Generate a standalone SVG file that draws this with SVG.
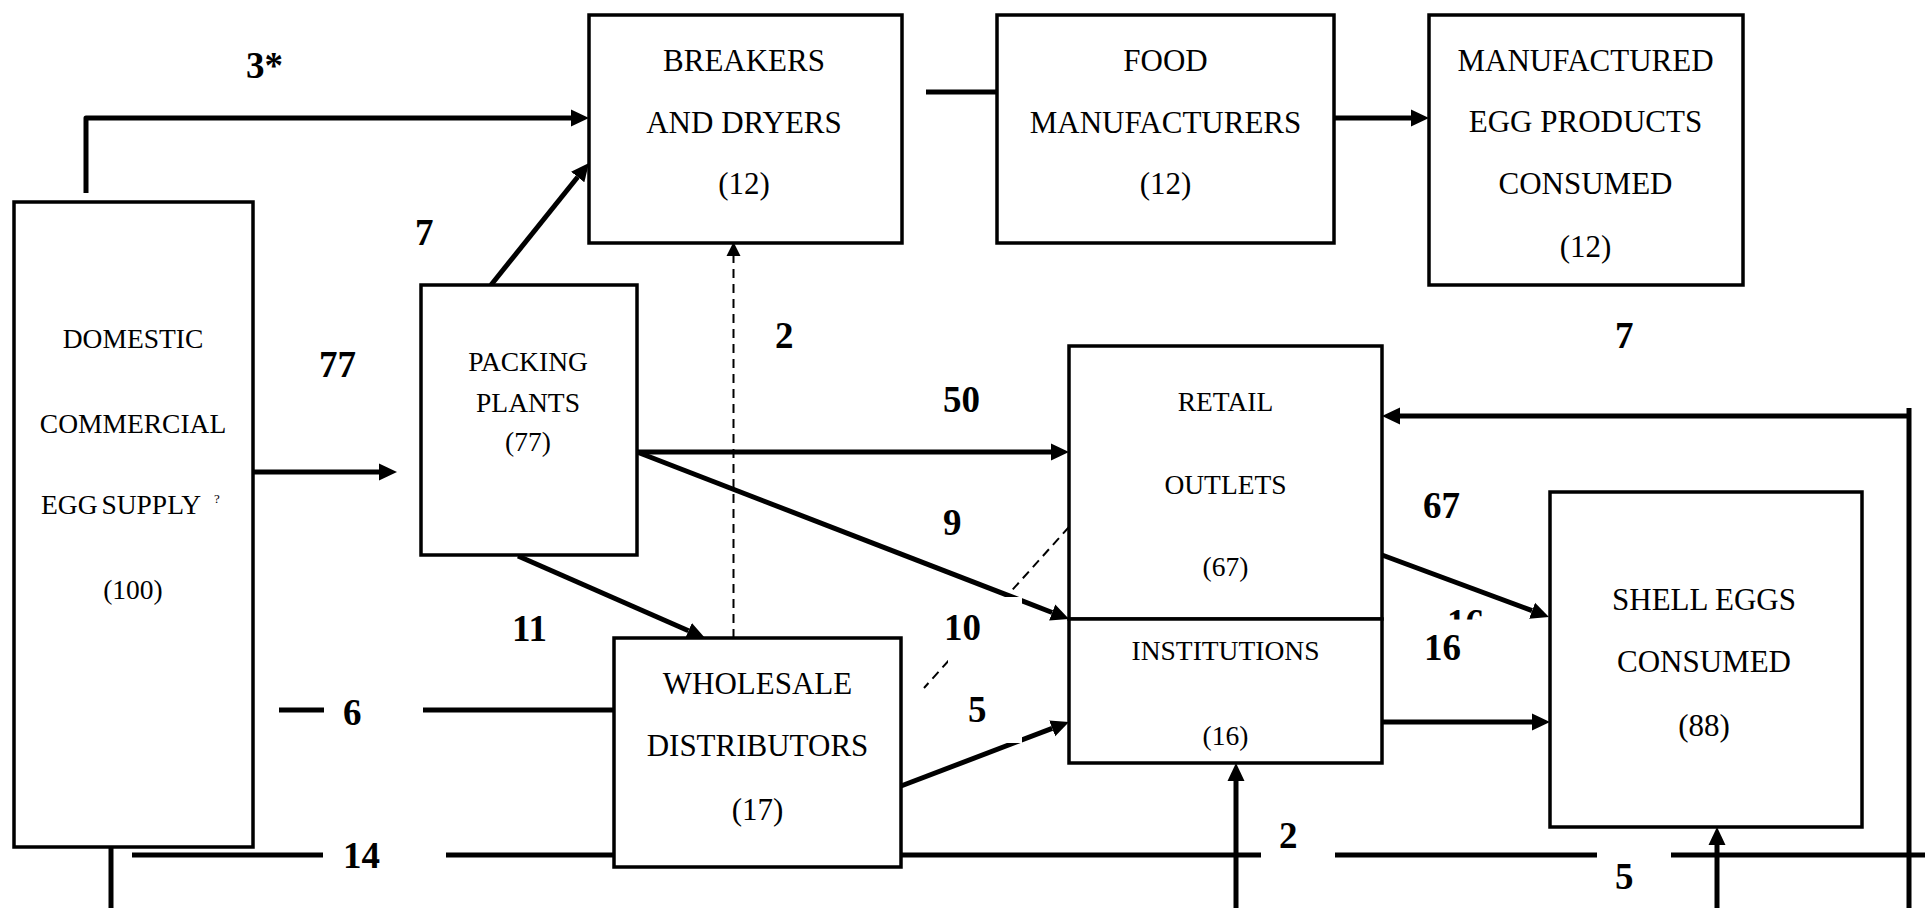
<svg xmlns="http://www.w3.org/2000/svg" width="1925" height="908" viewBox="0 0 1925 908">
  <style>
    .box { fill: #ffffff; stroke: #000000; stroke-width: 3.5; }
    .t { font-family: "Liberation Serif", "Times New Roman", serif; font-size: 31px; text-anchor: middle; fill: #000000; }
    .ts { font-size: 27.5px; }
    .lbl { font-family: "Liberation Serif", "Times New Roman", serif; font-size: 37px; font-weight: bold; fill: #000000; }
    .ln { fill: none; stroke: #000000; stroke-width: 5; stroke-linecap: butt; stroke-linejoin: round; }
    .arr { marker-end: url(#head); }
    .dash { fill: none; stroke: #000000; stroke-width: 2; stroke-dasharray: 9 6; }
  </style>
  <defs>
    <marker id="head" markerUnits="userSpaceOnUse" markerWidth="18" markerHeight="18" viewBox="0 -9 18 18" refX="0" refY="0" orient="auto">
      <path d="M0,-8.5 L18,0 L0,8.5 z" fill="#000000"/>
    </marker>
    <marker id="headSmall" markerUnits="userSpaceOnUse" markerWidth="14" markerHeight="16" viewBox="0 -8 14 16" refX="0" refY="0" orient="auto">
      <path d="M0,-7 L14,0 L0,7 z" fill="#000000"/>
    </marker>
    <clipPath id="cutTop">
      <rect x="1440" y="600" width="60" height="19.5"/>
    </clipPath>
  </defs>

  <rect x="0" y="0" width="1925" height="908" fill="#ffffff"/>

  <!-- flows between the stages -->
  <g id="connectors">
    <!-- supply straight to breakers -->
    <path class="ln arr" d="M86,193 L86,118 L571,118" stroke-linecap="round"/>
    <!-- supply to packing plants -->
    <path class="ln arr" d="M253,472 L379,472"/>
    <!-- packing plants to breakers -->
    <path class="ln arr" d="M491,285 L577.7,177"/>
    <!-- breakers to food manufacturers -->
    <path class="ln" d="M926,92 L997,92"/>
    <!-- food manufacturers to manufactured products -->
    <path class="ln arr" d="M1334,118 L1411,118"/>
    <!-- wholesale back to breakers (dashed) -->
    <path class="dash" d="M733.5,638 L733.5,256" marker-end="url(#headSmall)"/>
    <!-- packing plants to retail -->
    <path class="ln arr" d="M637,452 L1051,452"/>
    <!-- packing plants to institutions -->
    <path class="ln arr" d="M637,452 L1052.2,612.5" stroke-width="5.5"/>
    <!-- packing plants to wholesale -->
    <path class="ln arr" d="M518,556 L688.5,630.8"/>
    <!-- wholesale to retail (dashed) -->
    <path class="dash" d="M1069,527 L924,688"/>
    <!-- wholesale to institutions -->
    <path class="ln arr" d="M901,786 L1052.2,728.4"/>
    <!-- supply to wholesale -->
    <path class="ln" d="M279,710 L324,710 M423,710 L614,710"/>
    <!-- bottom distribution line -->
    <path class="ln" d="M132,855 L323,855 M446,855 L614,855 M901,855 L1261,855 M1335,855 L1597,855 M1671,855 L1925,855" stroke-width="5.5"/>
    <path class="ln" d="M111,846 L111,908" stroke-width="4.5"/>
    <!-- up into institutions and shell eggs -->
    <path class="ln arr" d="M1236,908 L1236,781" stroke-width="4.5"/>
    <path class="ln arr" d="M1717,908 L1717,845" stroke-width="4.5"/>
    <!-- right loop back into retail -->
    <path class="ln" d="M1909,408 L1909,908" stroke-width="4.5" stroke-linecap="round"/>
    <path class="ln arr" d="M1909,416 L1400,416"/>
    <!-- retail and institutions to shell eggs -->
    <path class="ln arr" d="M1382,555 L1532.1,610.7" stroke-width="5.5"/>
    <path class="ln arr" d="M1382,722 L1532,722"/>
    <!-- label backing that interrupts the lines -->
    <rect x="948" y="597" width="74" height="146" fill="#ffffff"/>
  </g>

  <g id="domestic-supply">
    <rect class="box" x="14" y="202" width="239" height="645"/>
    <text class="t ts" x="133" y="348">DOMESTIC</text>
    <text class="t ts" x="133" y="433">COMMERCIAL</text>
    <text class="t ts" x="41" y="514" style="text-anchor:start" word-spacing="-3">EGG SUPPLY</text>
    <text class="t" x="214" y="503" style="text-anchor:start;font-size:13px">?</text>
    <text class="t ts" x="133" y="599">(100)</text>
  </g>

  <g id="packing-plants">
    <rect class="box" x="421" y="285" width="216" height="270"/>
    <text class="t ts" x="528" y="371">PACKING</text>
    <text class="t ts" x="528" y="412">PLANTS</text>
    <text class="t ts" x="528" y="451">(77)</text>
  </g>

  <g id="breakers-dryers">
    <rect class="box" x="589" y="15" width="313" height="228"/>
    <text class="t" x="744" y="71">BREAKERS</text>
    <text class="t" x="744" y="133">AND DRYERS</text>
    <text class="t" x="744" y="194">(12)</text>
  </g>

  <g id="food-manufacturers">
    <rect class="box" x="997" y="15" width="337" height="228"/>
    <text class="t" x="1165.5" y="71">FOOD</text>
    <text class="t" x="1165.5" y="133">MANUFACTURERS</text>
    <text class="t" x="1165.5" y="194">(12)</text>
  </g>

  <g id="manufactured-products">
    <rect class="box" x="1429" y="15" width="314" height="270"/>
    <text class="t" x="1585.5" y="71">MANUFACTURED</text>
    <text class="t" x="1585.5" y="132">EGG PRODUCTS</text>
    <text class="t" x="1585.5" y="194">CONSUMED</text>
    <text class="t" x="1585.5" y="257">(12)</text>
  </g>

  <g id="retail-outlets">
    <rect class="box" x="1069" y="346" width="313" height="273"/>
    <text class="t ts" x="1225.5" y="411">RETAIL</text>
    <text class="t ts" x="1225.5" y="494">OUTLETS</text>
    <text class="t ts" x="1225.5" y="576">(67)</text>
  </g>

  <g id="institutions">
    <rect class="box" x="1069" y="619" width="313" height="144"/>
    <text class="t ts" x="1225.5" y="660">INSTITUTIONS</text>
    <text class="t ts" x="1225.5" y="745">(16)</text>
  </g>

  <g id="wholesale-distributors">
    <rect class="box" x="614" y="638" width="287" height="229"/>
    <text class="t" x="757.5" y="694">WHOLESALE</text>
    <text class="t" x="757.5" y="756">DISTRIBUTORS</text>
    <text class="t" x="757.5" y="820">(17)</text>
  </g>

  <g id="shell-eggs">
    <rect class="box" x="1550" y="492" width="312" height="335"/>
    <text class="t" x="1704" y="610">SHELL EGGS</text>
    <text class="t" x="1704" y="672">CONSUMED</text>
    <text class="t" x="1704" y="736">(88)</text>
  </g>

  <g id="flow-labels">
    <text class="lbl" x="246" y="78">3*</text>
    <text class="lbl" x="415" y="245">7</text>
    <text class="lbl" x="319" y="377">77</text>
    <text class="lbl" x="512" y="641">11</text>
    <text class="lbl" x="775" y="348">2</text>
    <text class="lbl" x="943" y="412">50</text>
    <text class="lbl" x="943" y="535">9</text>
    <text class="lbl" x="944" y="640">10</text>
    <text class="lbl" x="968" y="722">5</text>
    <text class="lbl" x="1423" y="518">67</text>
    <text class="lbl" x="1615" y="348">7</text>
    <text class="lbl" x="1424" y="660">16</text>
    <text class="lbl" x="1447" y="635" clip-path="url(#cutTop)">16</text>
    <text class="lbl" x="343" y="725">6</text>
    <text class="lbl" x="343" y="868">14</text>
    <text class="lbl" x="1279" y="848">2</text>
    <text class="lbl" x="1615" y="889">5</text>
  </g>
</svg>
